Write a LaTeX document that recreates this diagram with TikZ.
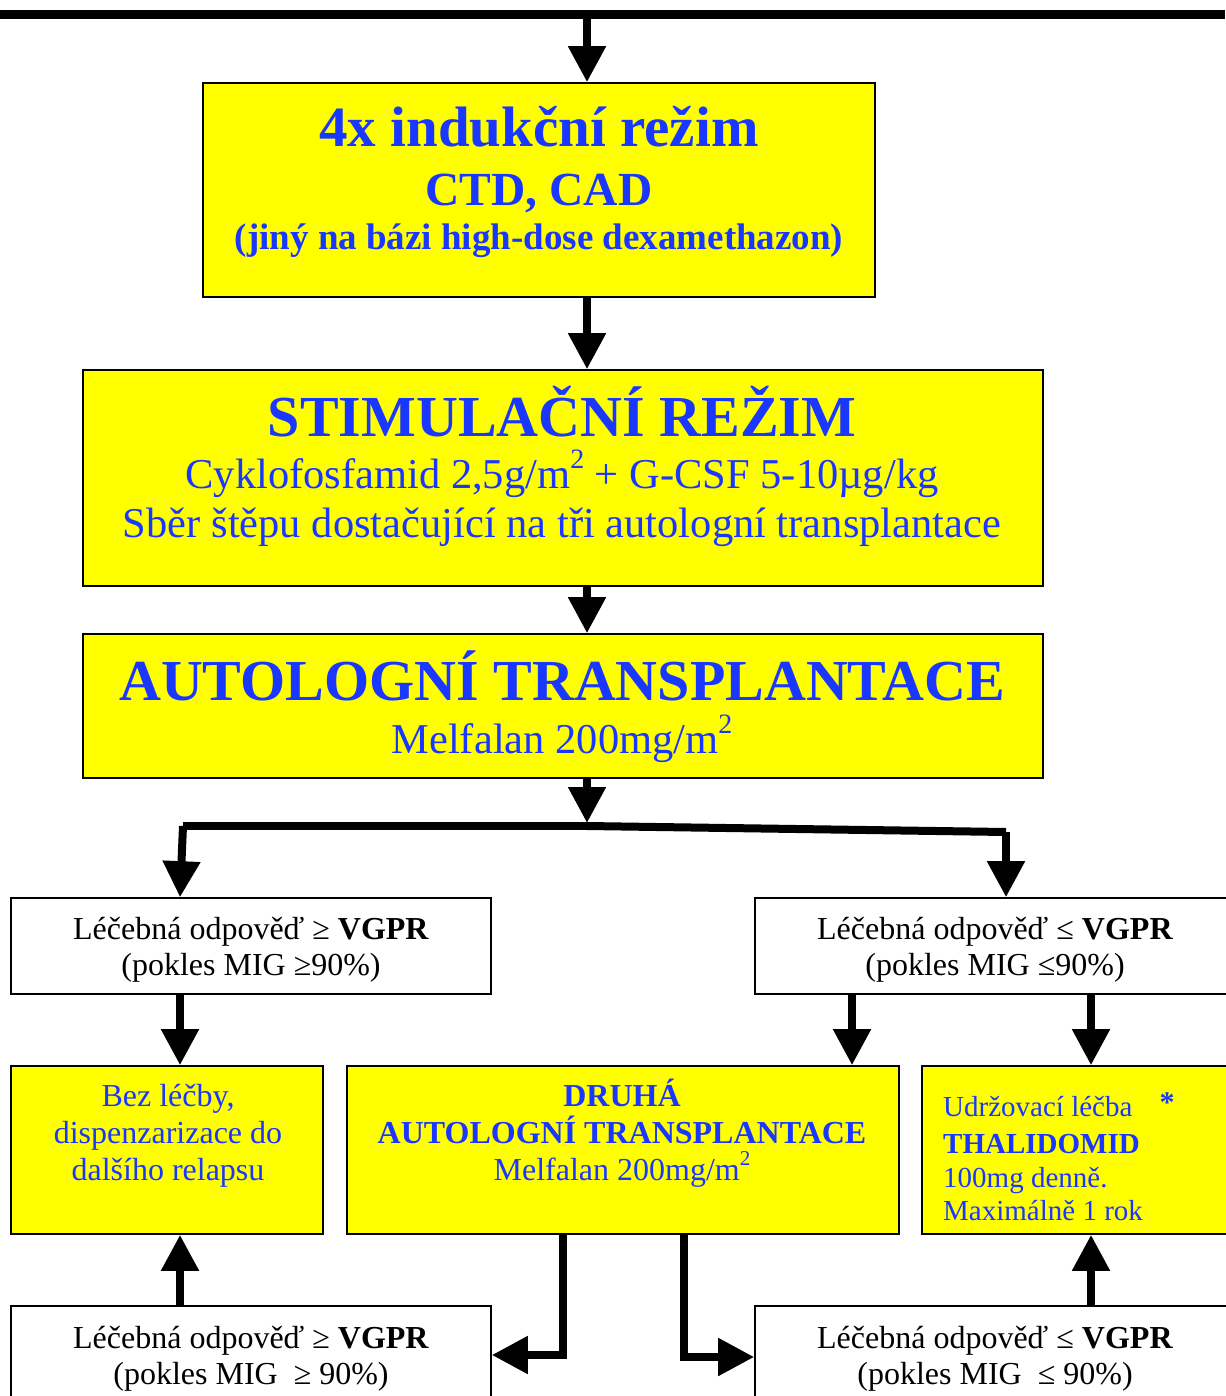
\documentclass[tikz,border=0pt]{standalone}
\usepackage{fontspec}
\setmainfont{Liberation Serif}
\usetikzlibrary{arrows.meta}
\definecolor{tblue}{RGB}{25,55,255}
\definecolor{tyellow}{RGB}{255,255,0}
\newcommand\mysup[1]{\raisebox{0.45em}{\scalebox{0.66}{#1}}}
\begin{document}
\begin{tikzpicture}[x=1pt,y=-1pt,
  box/.style={draw=black,line width=1.6pt,inner sep=0pt},
  ybox/.style={box,fill=tyellow},
  wbox/.style={box,fill=white},
  txt/.style={anchor=base,inner sep=0pt,text=tblue},
  btxt/.style={anchor=base,inner sep=0pt,text=black,font=\fontsize{32}{36}\selectfont},
  arr/.style={line width=8pt,line join=miter,-{Triangle[length=36pt,width=36pt]}},
  thick line/.style={line width=8pt,line join=miter}]
\useasboundingbox (0,0) rectangle (1225,1396);
\fill[white] (0,0) rectangle (1225,1396);

% top bar
\coordinate (topL) at (0,15);
\coordinate (topR) at (1225,15);
\draw[line width=9pt] (topL) -- (topR);
\coordinate (t0) at (587,11);

% boxes
\node[ybox,minimum width=672pt,minimum height=214pt] (b1) at (539,190) {};
\node[ybox,minimum width=960pt,minimum height=216pt] (b2) at (563,478) {};
\node[ybox,minimum width=960pt,minimum height=144pt] (b3) at (563,706) {};
\node[wbox,minimum width=480pt,minimum height=96pt] (L1) at (251,946) {};
\node[wbox,minimum width=478pt,minimum height=96pt] (R1) at (994,946) {};
\node[ybox,minimum width=312pt,minimum height=168pt] (L2) at (167,1150) {};
\node[ybox,minimum width=552pt,minimum height=168pt] (M) at (623,1150) {};
\node[ybox,minimum width=312pt,minimum height=168pt] (R2) at (1078,1150) {};
\node[wbox,minimum width=480pt,minimum height=100pt] (L3) at (251,1356) {};
\node[wbox,minimum width=478pt,minimum height=100pt] (R3) at (994,1356) {};

% texts box 1
\node[txt,font=\fontsize{57}{60}\selectfont\bfseries] (t1a) at (539,147) {4x indukční režim};
\node[txt,font=\fontsize{47.5}{50}\selectfont\bfseries] (t1b) at (539,206) {CTD, CAD};
\node[txt,font=\fontsize{37}{40}\selectfont\bfseries] (t1c) at (539,250) {(jiný na bázi high-dose dexamethazon)};
% box 2
\node[txt,font=\fontsize{58}{60}\selectfont\bfseries] (t2a) at (562,436) {STIMULAČNÍ REŽIM};
\node[txt,font=\fontsize{42.5}{45}\selectfont] (t2b) at (562,488) {Cyklofosfamid 2,5g/m\mysup{2} + G-CSF 5-10µg/kg};
\node[txt,font=\fontsize{42.5}{45}\selectfont] (t2c) at (562,537) {Sběr štěpu dostačující na tři autologní transplantace};
% box 3
\node[txt,font=\fontsize{58}{60}\selectfont\bfseries] (t3a) at (562,700) {AUTOLOGNÍ TRANSPLANTACE};
\node[txt,font=\fontsize{42.5}{45}\selectfont] (t3b) at (562,753) {Melfalan 200mg/m\mysup{2}};
% L1, R1
\node[btxt] (tL1a) at (251,939) {Léčebná odpověď ≥ \textbf{VGPR}};
\node[btxt] (tL1b) at (251,975) {(pokles MIG ≥90\%)};
\node[btxt] (tR1a) at (995,939) {Léčebná odpověď ≤ \textbf{VGPR}};
\node[btxt] (tR1b) at (995,975) {(pokles MIG ≤90\%)};
% L2
\node[txt,font=\fontsize{32}{36}\selectfont] (tL2a) at (168,1106) {Bez léčby,};
\node[txt,font=\fontsize{32}{36}\selectfont] (tL2b) at (168,1143) {dispenzarizace do};
\node[txt,font=\fontsize{32}{36}\selectfont] (tL2c) at (168,1180) {dalšího relapsu};
% M
\node[txt,font=\fontsize{32}{36}\selectfont\bfseries] (tMa) at (622,1106) {DRUHÁ};
\node[txt,font=\fontsize{32}{36}\selectfont\bfseries] (tMb) at (622,1143) {AUTOLOGNÍ TRANSPLANTACE};
\node[txt,font=\fontsize{32}{36}\selectfont] (tMc) at (622,1180) {Melfalan 200mg/m\mysup{2}};
% R2
\node[txt,anchor=base west,font=\fontsize{29}{33}\selectfont] (tR2a) at (943,1116) {Udržovací léčba};
\node[txt,anchor=base west,font=\fontsize{29}{33}\selectfont\bfseries] (tR2b) at (943,1153) {THALIDOMID};
\node[txt,anchor=base west,font=\fontsize{29}{33}\selectfont] (tR2c) at (943,1187) {100mg denně.};
\node[txt,anchor=base west,font=\fontsize{29}{33}\selectfont] (tR2d) at (943,1220) {Maximálně 1 rok};
\node[txt,font=\fontsize{30}{33}\selectfont\bfseries] (star) at (1167,1112) {*};
% L3, R3
\node[btxt] (tL3a) at (251,1348) {Léčebná odpověď ≥ \textbf{VGPR}};
\node[btxt] (tL3b) at (251,1384) {(pokles MIG\ \ ≥ 90\%)};
\node[btxt] (tR3a) at (995,1348) {Léčebná odpověď ≤ \textbf{VGPR}};
\node[btxt] (tR3b) at (995,1384) {(pokles MIG\ \ ≤ 90\%)};

% connectors
\draw[arr] (t0) -- (b1.north -| t0);
\draw[arr] (b1.south -| t0) -- (b2.north -| t0);
\draw[arr] (b2.south -| t0) -- (b3.north -| t0);
\coordinate (br) at (587,826);
\draw[arr] (b3.south -| t0) -- (587,823);
\coordinate (bl) at (183,826);
\coordinate (xL) at (180,0);
\coordinate (brr) at (1006,832);
\draw[thick line] (br) -- (bl);
\draw[arr] (bl) -- (L1.north -| xL);
\draw[thick line] (br) -- (brr);
\draw[arr] (brr) -- (R1.north -| brr);

\coordinate (xM) at (852,0);
\coordinate (xR) at (1091,0);
\draw[arr] (L1.south -| xL) -- (L2.north -| xL);
\draw[arr] (R1.south -| xM) -- (M.north -| xM);
\draw[arr] (R1.south -| xR) -- (R2.north -| xR);
\draw[arr] (L3.north -| xL) -- (L2.south -| xL);
\draw[arr] (R3.north -| xR) -- (R2.south -| xR);

\coordinate (mL) at (563,1355);
\coordinate (mR) at (684,1357);
\draw[arr] (M.south -| mL) -- (mL) -- (L3.east |- mL);
\draw[arr] (M.south -| mR) -- (mR) -- (R3.west |- mR);
\end{tikzpicture}
\end{document}
